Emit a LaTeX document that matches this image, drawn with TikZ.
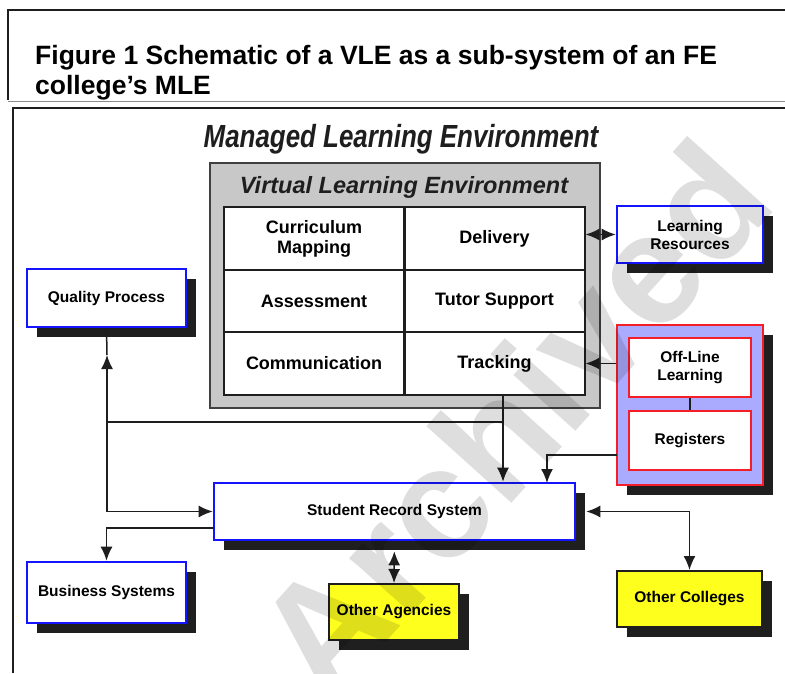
\documentclass[tikz,border=0pt]{standalone}
\usepackage{fontspec}
\setmainfont{Liberation Sans}
\usetikzlibrary{arrows.meta,shadows}
\definecolor{boxblue}{RGB}{20,20,255}
\definecolor{boxred}{RGB}{245,30,40}
\definecolor{lavender}{RGB}{170,170,255}
\definecolor{hiyellow}{RGB}{255,255,30}
\definecolor{stipple}{RGB}{200,200,200}
\definecolor{ink}{RGB}{30,30,30}
\begin{document}
\begin{tikzpicture}[x=1pt,y=-1pt,
  shadowed/.style={drop shadow={shadow xshift=10pt,shadow yshift=-10pt,fill=black!88,opacity=1}},
  labelfont/.style={font=\fontsize{15.5}{18}\selectfont\bfseries},
  sysbox/.style={draw=boxblue,line width=2.6pt,fill=white,align=center,inner sep=0pt,
    labelfont,shadowed},
  extbox/.style={draw=ink,line width=2pt,fill=hiyellow,align=center,inner sep=0pt,
    labelfont,shadowed},
  redbox/.style={draw=boxred,line width=2.6pt,fill=white,align=center,inner sep=0pt,labelfont},
  cell/.style={draw=ink,line width=2pt,fill=white,align=center,inner sep=0pt,
    minimum width=180pt,minimum height=62.7pt,font=\fontsize{18}{20}\selectfont\bfseries},
  link/.style={draw=ink,line width=1.5pt},
  tip/.style={link,-{Latex[length=14pt,width=12pt]}},
  twotip/.style={link,{Latex[length=14pt,width=12pt]}-{Latex[length=14pt,width=12pt]}}
]
\useasboundingbox (0,0) rectangle (785,673);
\fill[white] (0,0) rectangle (785,673);

% caption frame and caption
\draw[ink,line width=1.2pt] (8,100) -- (8,10) -- (785,10);
\draw[black!45,line width=0.8pt] (8,101) -- (785,101);
\node[anchor=north west,inner sep=0pt,align=left,
  font=\fontsize{26.5}{30}\selectfont\bfseries] (caption) at (35,45)
  {Figure 1 Schematic of a VLE as a sub-system of an FE\\college's MLE};

% frame of the diagram
\draw[ink,line width=2pt] (13,673) -- (13,108) -- (785,108);

% headings
\node[inner sep=0pt,text=ink,font=\fontsize{32}{34}\selectfont\bfseries\itshape] (mle)
  at (401,139) {\scalebox{0.81}[1]{Managed Learning Environment}};

% virtual learning environment
\node[draw=black!75,line width=2pt,fill=stipple,minimum width=390pt,minimum height=245pt,
  inner sep=0pt] (vle) at (405,285.5) {};
\node[inner sep=0pt,text=ink,font=\fontsize{23.5}{25}\selectfont\bfseries\itshape] (vlet)
  at (404,187) {Virtual Learning Environment};
\node[cell] (cm)  at (314,238.5) {Curriculum\\Mapping};
\node[cell] (del) at (494.5,238.5) {Delivery};
\node[cell] (ass) at (314,301) {Assessment};
\node[cell] (tut) at (494.5,301) {Tutor Support};
\node[cell] (com) at (314,363.5) {Communication};
\node[cell] (tra) at (494.5,363.5) {Tracking};

% surrounding systems
\node[sysbox,minimum width=159pt,minimum height=58pt] (qp) at (106.5,298) {Quality Process};
\node[sysbox,minimum width=146pt,minimum height=57pt] (lr) at (690,234.5) {Learning\\Resources};
\node[draw=boxred,line width=2.6pt,fill=lavender,minimum width=146pt,minimum height=160pt,
  inner sep=0pt,shadowed] (off) at (690,405) {};
\node[redbox,minimum width=122pt,minimum height=59pt] (oll) at (690,367.5) {Off-Line\\Learning};
\node[redbox,minimum width=122pt,minimum height=59pt] (reg) at (690,440.5) {Registers};
\node[sysbox,minimum width=361pt,minimum height=57pt] (srs) at (394.5,511.5) {Student Record System};
\node[sysbox,minimum width=159pt,minimum height=61pt] (bs) at (106.5,592.5) {Business Systems};
\node[extbox,minimum width=130pt,minimum height=56pt] (oa) at (394,612) {Other Agencies};
\node[extbox,minimum width=145pt,minimum height=56pt] (oc) at (689.5,599) {Other Colleges};

% connection points
\coordinate (vleout) at (503,395);
\coordinate (hjoin) at (107,422);
\coordinate (qpmark) at (107,355);
\coordinate (regtap) at (617,455);
\coordinate (srsreg) at (547,483);
\coordinate (srsbs) at (214,528);

% connectors
\draw[twotip] (lr.west) -- (lr.west -| del.east);
\draw[tip] (tra.east -| off.west) -- (tra.east);
\draw[link] (oll.south) -- (reg.north);
\draw[tip] (regtap) -| (srsreg);
\draw[tip] (vleout) -- (vleout |- srs.north);
\draw[link] (hjoin) -- (hjoin -| vleout);
\draw[tip] (hjoin) -- (qpmark);
\draw[link] (qpmark) -- (qp.south);
\draw[tip] (hjoin) |- (srs.west);
\draw[tip] (srsbs) -| (bs.north);
\draw[twotip,shorten <=10pt] (srs.south) -- (oa.north);
\draw[twotip,shorten <=10pt] (srs.east) -| (oc.north);

% archive stamp
\node[rotate=48,text=black,opacity=0.13,inner sep=0pt,
  font=\fontsize{158}{158}\selectfont\bfseries] (stamp) at (512,418) {Archived};
\end{tikzpicture}
\end{document}
